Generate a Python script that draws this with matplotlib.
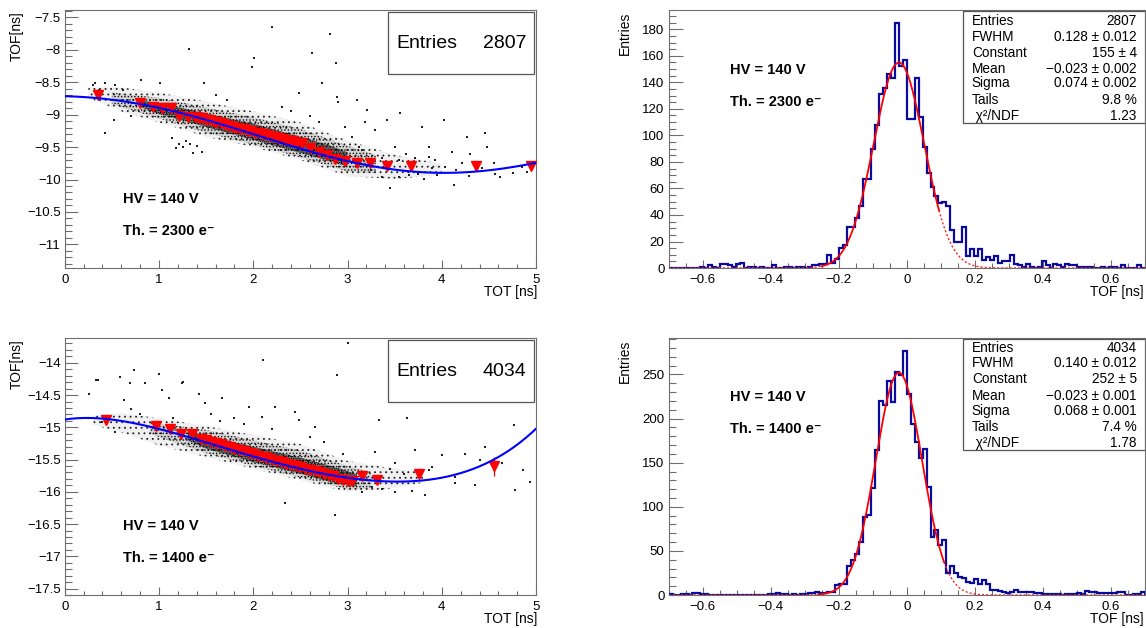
import numpy as np
import matplotlib
matplotlib.use('Agg')
import matplotlib.pyplot as plt
from matplotlib.ticker import MultipleLocator, FuncFormatter
from matplotlib.patches import Rectangle

plt.rcParams['font.family'] = ['Liberation Sans', 'DejaVu Sans']
plt.rcParams['axes.unicode_minus'] = True
plt.rcParams['hatch.linewidth'] = 0.6
plt.rcParams['hatch.color'] = 'black'

# ---------------- data: top-left (TOF vs TOT, Th = 2300 e-) ----------------
tl_entries = 2807
tl_curve_x = [0.0, 0.5, 1.0, 1.5, 2.0, 2.5, 3.0, 3.5, 4.0, 4.5, 5.0]
tl_curve_y = [-8.714, -8.775, -8.888, -9.084, -9.30, -9.52, -9.726, -9.844, -9.891, -9.865, -9.741]
tl_prof_x = [0.353, 0.802, 0.933, 1.032, 1.131, 1.216, 1.307,
             1.38, 1.42, 1.46, 1.50, 1.54, 1.58, 1.62, 1.66, 1.70, 1.74, 1.78, 1.82, 1.86, 1.90,
             1.94, 1.98, 2.02, 2.06, 2.10, 2.14, 2.18, 2.22, 2.26, 2.30, 2.34, 2.38, 2.42, 2.46,
             2.516, 2.604, 2.693, 2.781, 2.869, 2.975, 3.099, 3.24, 3.417, 3.671, 4.36, 4.943]
tl_prof_y = [-8.698, -8.827, -8.888, -8.894, -8.904, -9.022, -9.032,
             -9.03, -9.05, -9.05, -9.08, -9.09, -9.11, -9.12, -9.13, -9.16, -9.17, -9.19, -9.20, -9.22, -9.22,
             -9.25, -9.25, -9.28, -9.29, -9.30, -9.31, -9.33, -9.35, -9.36, -9.37, -9.39, -9.41, -9.41, -9.43,
             -9.433, -9.52, -9.572, -9.623, -9.69, -9.71, -9.74, -9.75, -9.79, -9.79, -9.79, -9.79]
tl_prof_err = [0.02, 0.02, 0.015, 0.015, 0.01, 0.01, 0.01] + [0.005] * 28 + \
              [0.01, 0.01, 0.01, 0.01, 0.012, 0.015, 0.015, 0.02, 0.025, 0.03, 0.03, 0.03]
# dense cloud: inner core, middle and outer halo (upper / lower edges)
tl_core_x = [0.8, 1.0, 1.5, 2.0, 2.5, 2.8, 3.0]
tl_core_hi = [-8.78, -8.82, -8.98, -9.14, -9.34, -9.47, -9.58]
tl_core_lo = [-8.88, -8.99, -9.19, -9.39, -9.59, -9.71, -9.80]
tl_mid_x = [0.5, 1.0, 1.5, 2.0, 2.5, 3.0, 3.3]
tl_mid_hi = [-8.66, -8.74, -8.89, -9.04, -9.22, -9.48, -9.62]
tl_mid_lo = [-8.84, -9.06, -9.28, -9.46, -9.66, -9.88, -9.90]
tl_halo_x = [0.25, 0.6, 1.0, 1.5, 2.0, 2.5, 3.0, 3.5, 4.0]
tl_halo_hi = [-8.58, -8.58, -8.66, -8.80, -8.95, -9.12, -9.40, -9.62, -9.76]
tl_halo_lo = [-8.74, -8.95, -9.12, -9.34, -9.50, -9.70, -9.95, -9.99, -9.93]
tl_pts_x = [2.198, 2.816, 1.322, 2.622, 2.004, 1.986, 2.876, 2.728, 1.473, 0.813, 1.014, 0.424, 0.325,
            0.537, 2.481, 2.887, 2.898, 3.099, 3.205, 3.558, 3.788, 4.018, 4.265, 4.459, 4.477, 3.859,
            4.106, 3.417, 3.187, 3.293, 0.431, 0.519, 1.138, 1.208, 1.286, 1.332, 1.456, 1.357, 3.452,
            4.124, 4.760, 4.565, 4.283, 3.647, 3.806, 3.541, 3.364, 3.894, 4.035, 4.424, 4.848, 4.212,
            3.541, 3.717, 3.929, 3.364, 3.117, 3.046, 2.975, 3.505, 3.859, 4.389, 1.25, 1.40, 1.18,
            0.30, 0.36, 0.62, 0.70, 1.60, 1.72, 2.30, 2.40, 2.60, 2.70, 3.15, 3.25, 3.62, 3.75, 4.55,
            4.62, 4.90, 4.30, 4.15, 3.95]
tl_pts_y = [-7.645, -7.758, -7.989, -8.056, -8.133, -8.261, -8.20, -8.508, -8.518, -8.467, -8.508, -8.508,
            -8.518, -8.544, -8.662, -8.724, -8.801, -8.775, -8.93, -8.97, -9.186, -9.084, -9.341, -9.289,
            -9.495, -9.495, -9.572, -9.084, -9.11, -9.238, -9.289, -9.084, -9.366, -9.454, -9.402, -9.454,
            -9.572, -9.587, -10.137, -10.086, -9.906, -9.916, -9.947, -9.932, -9.998, -9.957, -9.967,
            -9.829, -9.803, -9.829, -9.803, -9.752, -9.70, -9.675, -9.70, -9.675, -9.495, -9.341, -9.186,
            -9.495, -9.649, -9.726, -9.50, -9.48, -9.52,
            -8.55, -8.62, -8.62, -9.02, -8.70, -8.78, -8.88, -8.95, -9.02, -9.12, -9.55, -9.85, -9.60,
            -9.92, -9.75, -9.96, -9.88, -9.60, -9.85, -9.93]

# ---------------- data: bottom-left (TOF vs TOT, Th = 1400 e-) ----------------
bl_entries = 4034
bl_curve_x = [0.0, 0.25, 0.5, 1.0, 1.5, 2.0, 2.5, 3.0, 3.5, 4.0, 4.5, 5.0]
bl_curve_y = [-14.874, -14.862, -14.885, -15.01, -15.24, -15.458, -15.64, -15.778, -15.846, -15.778, -15.54, -15.02]
bl_prof_x = [0.442, 0.968, 1.12, 1.237, 1.35,
             1.45, 1.50, 1.55, 1.60, 1.65, 1.70, 1.75, 1.80, 1.85, 1.90, 1.95, 2.00, 2.05, 2.10, 2.15,
             2.20, 2.25, 2.30, 2.35, 2.40, 2.45, 2.50, 2.55, 2.60, 2.65, 2.70, 2.75, 2.80, 2.85, 2.90,
             2.95, 3.00, 3.05,
             3.152, 3.311, 3.76, 4.558]
bl_prof_y = [-14.879, -14.982, -15.023, -15.096, -15.106,
             -15.18, -15.20, -15.23, -15.24, -15.26, -15.29, -15.30, -15.33, -15.35, -15.37, -15.40, -15.42,
             -15.44, -15.46, -15.48, -15.50, -15.52, -15.54, -15.57, -15.58, -15.60, -15.62, -15.64, -15.66,
             -15.68, -15.70, -15.72, -15.74, -15.76, -15.80, -15.82, -15.83, -15.83,
             -15.758, -15.81, -15.727, -15.603]
bl_prof_err = [0.02, 0.015, 0.012, 0.01, 0.01] + [0.005] * 33 + [0.015, 0.02, 0.04, 0.145]
bl_core_x = [1.3, 1.5, 2.0, 2.5, 2.9, 3.1]
bl_core_hi = [-15.07, -15.13, -15.30, -15.47, -15.63, -15.73]
bl_core_lo = [-15.20, -15.33, -15.54, -15.72, -15.88, -15.92]
bl_mid_x = [0.9, 1.2, 1.5, 2.0, 2.5, 3.0, 3.25]
bl_mid_hi = [-14.93, -14.98, -15.04, -15.20, -15.36, -15.60, -15.70]
bl_mid_lo = [-15.10, -15.25, -15.40, -15.60, -15.78, -15.96, -15.95]
bl_halo_x = [0.3, 0.6, 1.0, 1.5, 2.0, 2.5, 3.0, 3.4, 3.8]
bl_halo_hi = [-14.82, -14.78, -14.86, -14.98, -15.12, -15.26, -15.52, -15.62, -15.68]
bl_halo_lo = [-14.96, -15.08, -15.28, -15.46, -15.64, -15.82, -16.00, -15.96, -15.86]
bl_pts_x = [3.004, 2.887, 0.353, 0.731, 0.590, 0.855, 0.696, 1.244, 0.254, 0.625, 1.032, 1.102, 1.420,
            1.491, 1.668, 1.951, 2.092, 2.233, 2.445, 2.481, 2.657, 3.329, 3.629, 3.293, 3.505, 3.717,
            4.0, 4.247, 4.459, 4.636, 4.777, 4.866, 4.936, 3.859, 4.141, 4.353, 3.505, 3.682, 3.823,
            3.364, 2.339, 2.869, 3.152, 3.258, 4.141, 0.537, 0.396, 2.10, 0.33, 1.0, 1.25, 3.63, 4.77,
            1.80, 1.90, 2.20, 2.60, 2.75, 1.55, 1.65, 3.45, 3.60, 3.90, 4.40, 0.80, 0.70, 1.15, 2.95]
bl_pts_y = [-13.70, -14.19, -14.27, -14.11, -14.22, -14.32, -14.32, -14.32, -14.48, -14.58, -14.42,
            -14.55, -14.48, -14.63, -14.55, -14.68, -14.84, -14.68, -14.76, -14.89, -14.99, -14.89,
            -14.85, -15.38, -15.56, -15.35, -15.43, -15.41, -15.30, -15.56, -15.97, -15.66, -15.85,
            -15.66, -15.77, -15.90, -16.00, -15.98, -16.05, -15.95, -16.18, -16.36, -16.00, -15.92,
            -15.87, -15.07, -14.92, -13.95, -14.27, -14.17, -14.30, -14.85, -14.97,
            -14.85, -14.95, -15.02, -15.15, -15.22, -14.80, -14.90, -15.65, -15.72, -15.62, -15.50,
            -14.80, -14.72, -14.85, -15.42]

# ---------------- data: histograms ----------------
hist_edges = np.linspace(-0.7, 0.7, 121)
tr_counts = [0, 0, 0, 0, 0, 0, 0, 0,
             1, 0, 2, 1, 0, 3, 3, 2, 1, 3, 4, 0, 1, 1, 0, 1, 0, 0, 2, 0, 0, 1, 1, 0, 1, 1, 0, 1, 2, 2, 3, 3,
             10, 4, 7, 15, 17, 31, 31, 38, 47, 67, 67, 90, 108, 131, 136, 146, 143, 185, 152, 157, 112,
             112, 143, 114, 91, 72, 61, 54, 49, 50, 47, 29, 20, 20, 31, 9, 14, 9, 14, 6, 8, 6, 9, 4, 5, 5, 10,
             3, 2, 1, 3, 1, 0, 1, 5, 2, 0, 3, 2, 1, 3, 2, 2, 1, 1, 1, 1, 0, 0, 1, 0, 1, 1, 0, 2, 0, 0, 0, 2, 0]
br_counts = [1, 0, 0, 1, 1, 0, 2, 2, 1, 1,
             0, 0, 0, 0, 0, 0, 0, 0, 0, 0, 0, 0, 0, 0, 0,
             1, 1, 2, 1, 1, 0, 1, 0, 1, 1, 2, 2, 3, 2, 2,
             4, 4, 11, 12, 13, 33, 40, 47, 60, 89, 91, 121, 164, 220, 215, 243, 219, 253, 249, 277, 228,
             194, 174, 155, 165, 122, 66, 74, 57, 62, 25, 33, 25, 21, 19, 15, 14, 18, 12, 17, 12, 6, 6, 5, 3, 2, 4,
             6, 4, 4, 3, 3, 2, 2, 1, 1, 1, 1, 1, 0, 1, 1, 1, 2, 1, 5, 3, 3, 2, 2, 2, 2, 2, 3, 4, 0, 0, 1, 1, 4]
tr_fit = dict(const=155, mean=-0.023, sigma=0.074, lo=-0.25, hi=0.095)
br_fit = dict(const=252, mean=-0.023, sigma=0.068, lo=-0.26, hi=0.11)
tr_stats = [("Entries", "2807"), ("FWHM", "0.128 \u00b1 0.012"), ("Constant", "155 \u00b1 4"),
            ("Mean", "\u22120.023 \u00b1 0.002"), ("Sigma", "0.074 \u00b1 0.002"), ("Tails", "9.8 %"),
            (" \u03c7\u00b2/NDF", "1.23")]
br_stats = [("Entries", "4034"), ("FWHM", "0.140 \u00b1 0.012"), ("Constant", "252 \u00b1 5"),
            ("Mean", "\u22120.023 \u00b1 0.001"), ("Sigma", "0.068 \u00b1 0.001"), ("Tails", "7.4 %"),
            (" \u03c7\u00b2/NDF", "1.78")]
hv_label = "HV = 140 V"
th_top = "Th. = 2300 e\u207b"
th_bot = "Th. = 1400 e\u207b"

FRAME = '#6e6e6e'


def fmt(v, pos):
    return ('%g' % round(v, 6)).replace('-', '\u2212')


def style_axes(ax, xmaj, xmin, ymaj, ymin, ylen, xlen):
    for s in ax.spines.values():
        s.set_color(FRAME)
        s.set_linewidth(0.8)
    ax.xaxis.set_major_locator(MultipleLocator(xmaj))
    ax.xaxis.set_minor_locator(MultipleLocator(xmin))
    ax.yaxis.set_major_locator(MultipleLocator(ymaj))
    ax.yaxis.set_minor_locator(MultipleLocator(ymin))
    ax.xaxis.set_major_formatter(FuncFormatter(fmt))
    ax.yaxis.set_major_formatter(FuncFormatter(fmt))
    ax.tick_params(which='both', direction='in', top=False, right=False, color=FRAME,
                   width=0.8, labelsize=9.5, labelcolor='black')
    ax.xaxis.set_tick_params(which='major', length=xlen[0], pad=4)
    ax.xaxis.set_tick_params(which='minor', length=xlen[1])
    ax.yaxis.set_tick_params(which='major', length=ylen[0], pad=3)
    ax.yaxis.set_tick_params(which='minor', length=ylen[1])


def scatter_panel(ax, ylim, curve_x, curve_y, px, py, perr, bands, ptsx, ptsy, entries, th, ytext):
    ax.set_xlim(0, 5)
    ax.set_ylim(*ylim)
    style_axes(ax, 1, 0.2, 0.5, 0.1, (9.5, 4.8), (6, 3.2))
    (hx, hlo, hhi), (mx, mlo, mhi), (cx, clo, chi) = bands
    ax.fill_between(hx, hlo, hhi, facecolor='black', alpha=0.06, lw=0, zorder=1)
    ax.fill_between(hx, hlo, hhi, facecolor='none', edgecolor='#222222', hatch='...', lw=0, zorder=1)
    ax.fill_between(mx, mlo, mhi, facecolor='black', alpha=0.12, lw=0, zorder=1)
    ax.fill_between(mx, mlo, mhi, facecolor='none', edgecolor='#111111', hatch='.....', lw=0, zorder=1)
    ax.fill_between(cx, clo, chi, facecolor='black', alpha=0.40, lw=0, zorder=1)
    ax.fill_between(cx, clo, chi, facecolor='none', edgecolor='black', hatch='........', lw=0, zorder=1)
    ax.scatter(ptsx, ptsy, s=0.9, marker='s', color='#202020', lw=0, zorder=2)
    ax.errorbar(px, py, yerr=perr, fmt='v', color='#ff0000', ms=6.8, mec='#ff0000',
                elinewidth=0.9, capsize=0, zorder=4)
    coef = np.polyfit(curve_x, curve_y, 5)
    xs = np.linspace(0, 5, 300)
    ax.plot(xs, np.polyval(coef, xs), color='#0000ff', lw=1.5, zorder=5)
    ax.add_patch(Rectangle((0.686, 0.752), 0.31, 0.24, transform=ax.transAxes, fc='white',
                           ec='#555555', lw=0.9, zorder=6))
    ax.text(0.703, ytext, 'Entries', transform=ax.transAxes, fontsize=14, ha='left', va='center', zorder=7)
    ax.text(0.979, ytext, str(entries), transform=ax.transAxes, fontsize=14, ha='right', va='center', zorder=7)
    ax.text(0.124, 0.267, hv_label, transform=ax.transAxes, fontsize=10.5, fontweight='bold',
            ha='left', va='center')
    ax.text(0.124, 0.143, th, transform=ax.transAxes, fontsize=10.5, fontweight='bold',
            ha='left', va='center')
    ax.text(-0.101, 0.995, 'TOF[ns]', transform=ax.transAxes, fontsize=10, rotation=90,
            ha='center', va='top')
    ax.text(1.002, -0.092, 'TOT [ns]', transform=ax.transAxes, fontsize=10, ha='right', va='center')


def hist_panel(ax, counts, fit, stats, ylim, ymaj, ymin, th, rows, box_bottom, hv_y, th_y):
    ax.set_xlim(-0.7, 0.7)
    ax.set_ylim(*ylim)
    style_axes(ax, 0.2, 0.05, ymaj, ymin, (10, 5), (5.5, 3.4))
    ax.stairs(counts, hist_edges, color='#0a0a9c', lw=1.6, baseline=0, zorder=3)
    g = lambda x: fit['const'] * np.exp(-0.5 * ((x - fit['mean']) / fit['sigma']) ** 2)
    xl = np.linspace(-0.7, fit['lo'], 200)
    xr = np.linspace(fit['hi'], 0.7, 300)
    xm = np.linspace(fit['lo'], fit['hi'], 300)
    ax.plot(xl, g(xl), color='#ff2020', lw=1.0, ls=(0, (1.5, 1.5)), zorder=4)
    ax.plot(xr, g(xr), color='#ff2020', lw=1.0, ls=(0, (1.5, 1.5)), zorder=4)
    ax.plot(xm, g(xm), color='#ff0000', lw=1.3, zorder=4)
    ax.add_patch(Rectangle((0.618, box_bottom), 0.382, 0.996 - box_bottom, transform=ax.transAxes,
                           fc='white', ec='#555555', lw=0.9, zorder=6))
    for (lab, val), yy in zip(stats, rows):
        ax.text(0.637, yy, lab, transform=ax.transAxes, fontsize=9.8, ha='left', va='center', zorder=7)
        ax.text(0.983, yy, val, transform=ax.transAxes, fontsize=9.8, ha='right', va='center', zorder=7)
    ax.text(0.129, hv_y, hv_label, transform=ax.transAxes, fontsize=10.5, fontweight='bold',
            ha='left', va='center')
    ax.text(0.129, th_y, th, transform=ax.transAxes, fontsize=10.5, fontweight='bold',
            ha='left', va='center')
    ax.text(-0.093, 0.995, 'Entries', transform=ax.transAxes, fontsize=10, rotation=90,
            ha='center', va='top')
    ax.text(0.998, -0.092, 'TOF [ns]', transform=ax.transAxes, fontsize=10, ha='right', va='center')


fig = plt.figure(figsize=(11.46, 6.28), dpi=100)
ax_tl = fig.add_axes([0.0565, 0.5732, 0.4113, 0.4108])
ax_tr = fig.add_axes([0.5835, 0.5732, 0.4154, 0.4108])
ax_bl = fig.add_axes([0.0565, 0.0525, 0.4113, 0.4088])
ax_br = fig.add_axes([0.5835, 0.0525, 0.4154, 0.4088])

scatter_panel(ax_tl, (-11.365, -7.387), tl_curve_x, tl_curve_y, tl_prof_x, tl_prof_y, tl_prof_err,
              [(tl_halo_x, tl_halo_lo, tl_halo_hi), (tl_mid_x, tl_mid_lo, tl_mid_hi),
               (tl_core_x, tl_core_lo, tl_core_hi)],
              tl_pts_x, tl_pts_y, tl_entries, th_top, 0.872)
scatter_panel(ax_bl, (-17.60, -13.62), bl_curve_x, bl_curve_y, bl_prof_x, bl_prof_y, bl_prof_err,
              [(bl_halo_x, bl_halo_lo, bl_halo_hi), (bl_mid_x, bl_mid_lo, bl_mid_hi),
               (bl_core_x, bl_core_lo, bl_core_hi)],
              bl_pts_x, bl_pts_y, bl_entries, th_bot, 0.869)

hist_panel(ax_tr, tr_counts, tr_fit, tr_stats, (0, 194.5), 20, 5, th_top,
           [0.957, 0.895, 0.833, 0.771, 0.717, 0.651, 0.589], 0.562, 0.767, 0.643)
hist_panel(ax_br, br_counts, br_fit, br_stats, (0, 291), 50, 10, th_bot,
           [0.962, 0.904, 0.842, 0.776, 0.717, 0.654, 0.592], 0.565, 0.771, 0.647)

fig.savefig('out.png', dpi=100)
